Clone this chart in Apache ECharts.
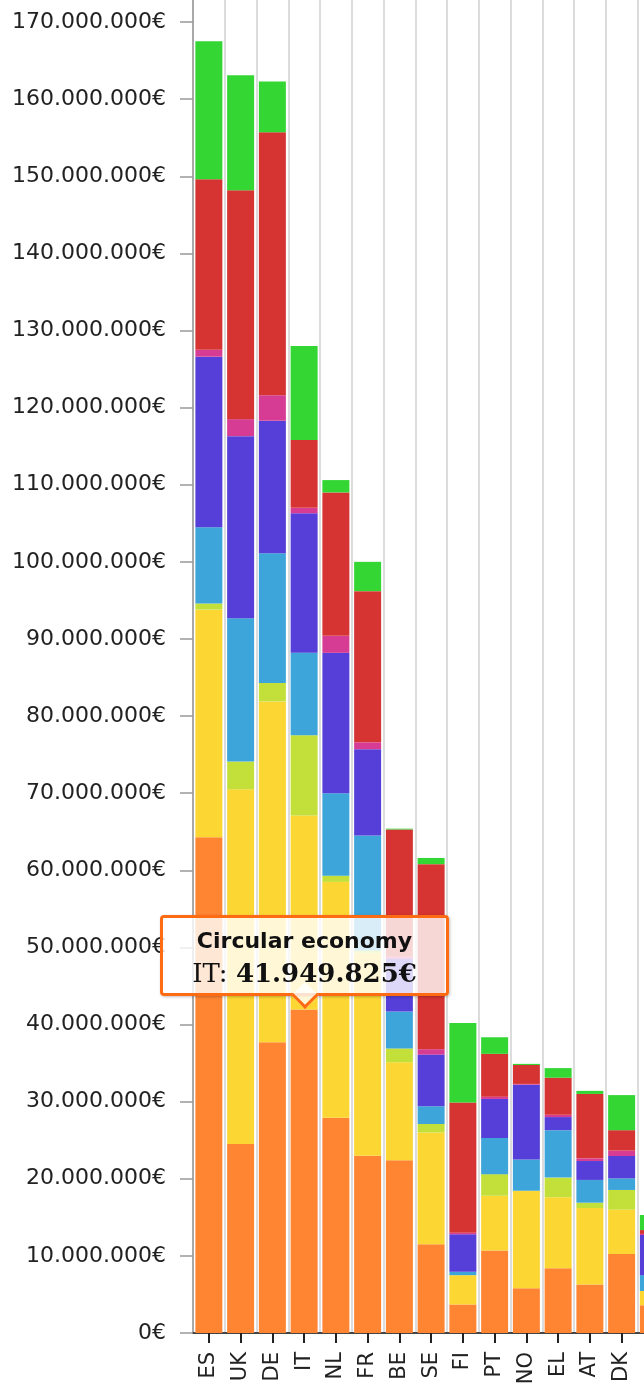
<!DOCTYPE html>
<html>
<head>
<meta charset="utf-8">
<script src="https://cdn.jsdelivr.net/npm/echarts@6/dist/echarts.min.js"></script>
<style>
  html, body { margin: 0; padding: 0; background: #fff; }
  #chart { width: 644px; height: 1390px; }
  .tipbox > div:last-child {
    width: 16px !important;
    height: 16px !important;
    bottom: -11.6px !important;
  }
</style>
</head>
<body>
<div id="chart"></div>
<script>
// ---- data (euros) ----
const categories = ['ES','UK','DE','IT','NL','FR','BE','SE','FI','PT','NO','EL','AT','DK','IE'];
// the last category is cut off at the right edge in the reference; its label is not visible
const visibleLabelCount = 14;

const seriesNames = ['Circular economy','Theme 2','Theme 3','Theme 4','Theme 5','Theme 6','Theme 7','Theme 8'];
const seriesColors = ['#FF8533','#FCD733','#C3E03A','#3DA5D9','#553FD8','#D63C94','#D63333','#33D633'];

const circularEconomy = [64300000,24500000,37700000,41949825,27900000,23000000,22400000,11500000,3700000,10700000,5800000,8400000,6300000,10250000,3600000];
const theme2 = [29500000,46000000,44200000,25150000,30600000,26300000,12700000,14500000,3800000,7100000,12650000,9200000,9900000,5750000,1850000];
const theme3 = [800000,3600000,2400000,10400000,800000,300000,1800000,1100000,0,2800000,0,2550000,700000,2550000,0];
const theme4 = [9900000,18600000,16800000,10700000,10700000,14900000,4800000,2300000,450000,4700000,4050000,6150000,2950000,1500000,2050000];
const theme5 = [22100000,23600000,17200000,18100000,18200000,11200000,6800000,6700000,4850000,5050000,9700000,1700000,2450000,2900000,5200000];
const theme6 = [900000,2200000,3300000,700000,2200000,900000,300000,700000,200000,300000,100000,300000,350000,700000,150000];
const theme7 = [22100000,29700000,34100000,8800000,18600000,19600000,16500000,24000000,16900000,5550000,2450000,4800000,8350000,2650000,500000];
const theme8 = [17900000,14900000,6600000,12200000,1600000,3800000,100000,800000,10300000,2150000,150000,1250000,400000,4550000,1950000];

const seriesData = [circularEconomy, theme2, theme3, theme4, theme5, theme6, theme7, theme8];

const yMin = 0, yMax = 180000000, yInterval = 10000000;

function fmt(v) {
  return String(Math.round(v)).replace(/\B(?=(\d{3})+(?!\d))/g, '.');
}

const chart = echarts.init(document.getElementById('chart'), null, { renderer: 'canvas' });

const option = {
  animation: false,
  grid: { left: 193, top: -55.1, width: 476.25, height: 1388.1, containLabel: false, outerBoundsMode: 'none' },
  tooltip: {
    trigger: 'item',
    position: 'top',
    alwaysShowContent: true,
    triggerOn: 'none',
    transitionDuration: 0,
    className: 'tipbox',
    backgroundColor: 'rgba(255,255,255,0.8)',
    borderColor: '#FF6B12',
    borderWidth: 3,
    padding: [8, 10, 3, 10],
    extraCssText: 'width:289px;box-sizing:border-box;text-align:center;border-radius:4px;box-shadow:1px 1px 3px rgba(0,0,0,0.25);',
    formatter: function (p) {
      return '<div>' +
        '<div style="font-family:\'DejaVu Sans\';font-weight:bold;font-size:22px;line-height:30px;color:#111;">' + p.seriesName + '</div>' +
        '<div style="font-family:\'DejaVu Serif\';font-size:26px;line-height:34px;color:#111;">' + p.name + ': <b>' + fmt(p.value) + '€</b></div>' +
        '</div>';
    }
  },
  xAxis: {
    type: 'category',
    data: categories,
    boundaryGap: true,
    axisLine: { show: true, lineStyle: { color: '#444', width: 2 } },
    axisTick: { show: true, alignWithLabel: true, length: 10, lineStyle: { color: '#222', width: 2 } },
    axisLabel: {
      interval: function (idx) { return idx < visibleLabelCount; },
      rotate: 90, margin: 19, fontFamily: 'DejaVu Sans', fontSize: 21, color: '#222'
    },
    splitLine: { show: true, interval: 0, lineStyle: { color: '#dcdcdc', width: 2 } }
  },
  yAxis: {
    type: 'value',
    min: yMin,
    max: yMax,
    interval: yInterval,
    axisLine: { show: true, lineStyle: { color: '#999', width: 1.5 } },
    axisTick: { show: true, length: 13, lineStyle: { color: '#999', width: 1.5 } },
    splitLine: { show: false },
    axisLabel: {
      margin: 27,
      fontFamily: 'DejaVu Sans',
      fontSize: 22,
      color: '#222',
      formatter: function (v) { return fmt(v) + '€'; }
    }
  },
  series: seriesData.map(function (d, i) {
    return {
      name: seriesNames[i],
      type: 'bar',
      stack: 'total',
      barCategoryGap: '15%',
      data: d,
      itemStyle: { color: seriesColors[i] },
      emphasis: { disabled: true }
    };
  })
};

chart.setOption(option);
chart.dispatchAction({ type: 'showTip', seriesIndex: 0, dataIndex: 3 });
setTimeout(function () {
  chart.dispatchAction({ type: 'showTip', seriesIndex: 0, dataIndex: 3 });
}, 50);
</script>
</body>
</html>
